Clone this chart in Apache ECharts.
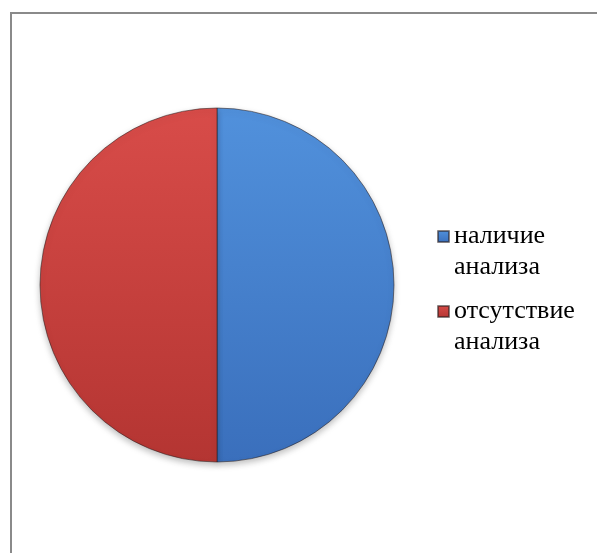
<!DOCTYPE html>
<html>
<head>
<meta charset="utf-8">
<script src="https://cdn.jsdelivr.net/npm/echarts@6/dist/echarts.min.js"></script>
<style>
html, body { margin: 0; padding: 0; background: #fff; }
#chart { width: 597px; height: 553px; }
</style>
</head>
<body>
<div id="chart"></div>
<script>
// категории и значения
var categories = ['наличие анализа', 'отсутствие анализа'];
var values = [50, 50];
var colorTop = ['#5191dc', '#d84c49'];
var colorBottom = ['#3a6fbc', '#b43532'];

var myChart = echarts.init(document.getElementById('chart'));

var pieData = categories.map(function (name, i) {
	return {
		name: name,
		value: values[i],
		itemStyle: {
			color: new echarts.graphic.LinearGradient(0, 0, 0, 1, [
				{ offset: 0, color: colorTop[i] },
				{ offset: 1, color: colorBottom[i] }
			])
		}
	};
});

var option = {
	backgroundColor: '#fff',
	animation: false,
	graphic: [{
		type: 'rect',
		shape: { x: 11, y: 13, width: 700, height: 700 },
		style: { fill: 'none', stroke: '#8a8a8a', lineWidth: 2 },
		silent: true
	}],
	legend: {
		orient: 'vertical',
		left: 437,
		top: 190,
		padding: 0,
		itemGap: -18,
		itemWidth: 11,
		itemHeight: 11,
		icon: 'rect',
		data: categories,
		// пустая строка сверху, чтобы первая строка была на уровне значка
		formatter: function (name) {
			return '\n' + name.replace(' ', '\n');
		},
		textStyle: {
			fontFamily: 'Liberation Serif',
			fontSize: 26,
			color: '#000',
			lineHeight: 31
		}
	},
	series: [{
		type: 'pie',
		center: [217, 285],
		radius: 177,
		startAngle: 90,
		clockwise: true,
		label: { show: false },
		labelLine: { show: false },
		emphasis: { disabled: true },
		itemStyle: {
			borderColor: 'rgba(40,30,30,0.55)',
			borderWidth: 1,
			shadowBlur: 6,
			shadowOffsetY: 3,
			shadowColor: 'rgba(0,0,0,0.25)'
		},
		data: pieData
	}]
};
option && myChart.setOption(option);
</script>
</body>
</html>
